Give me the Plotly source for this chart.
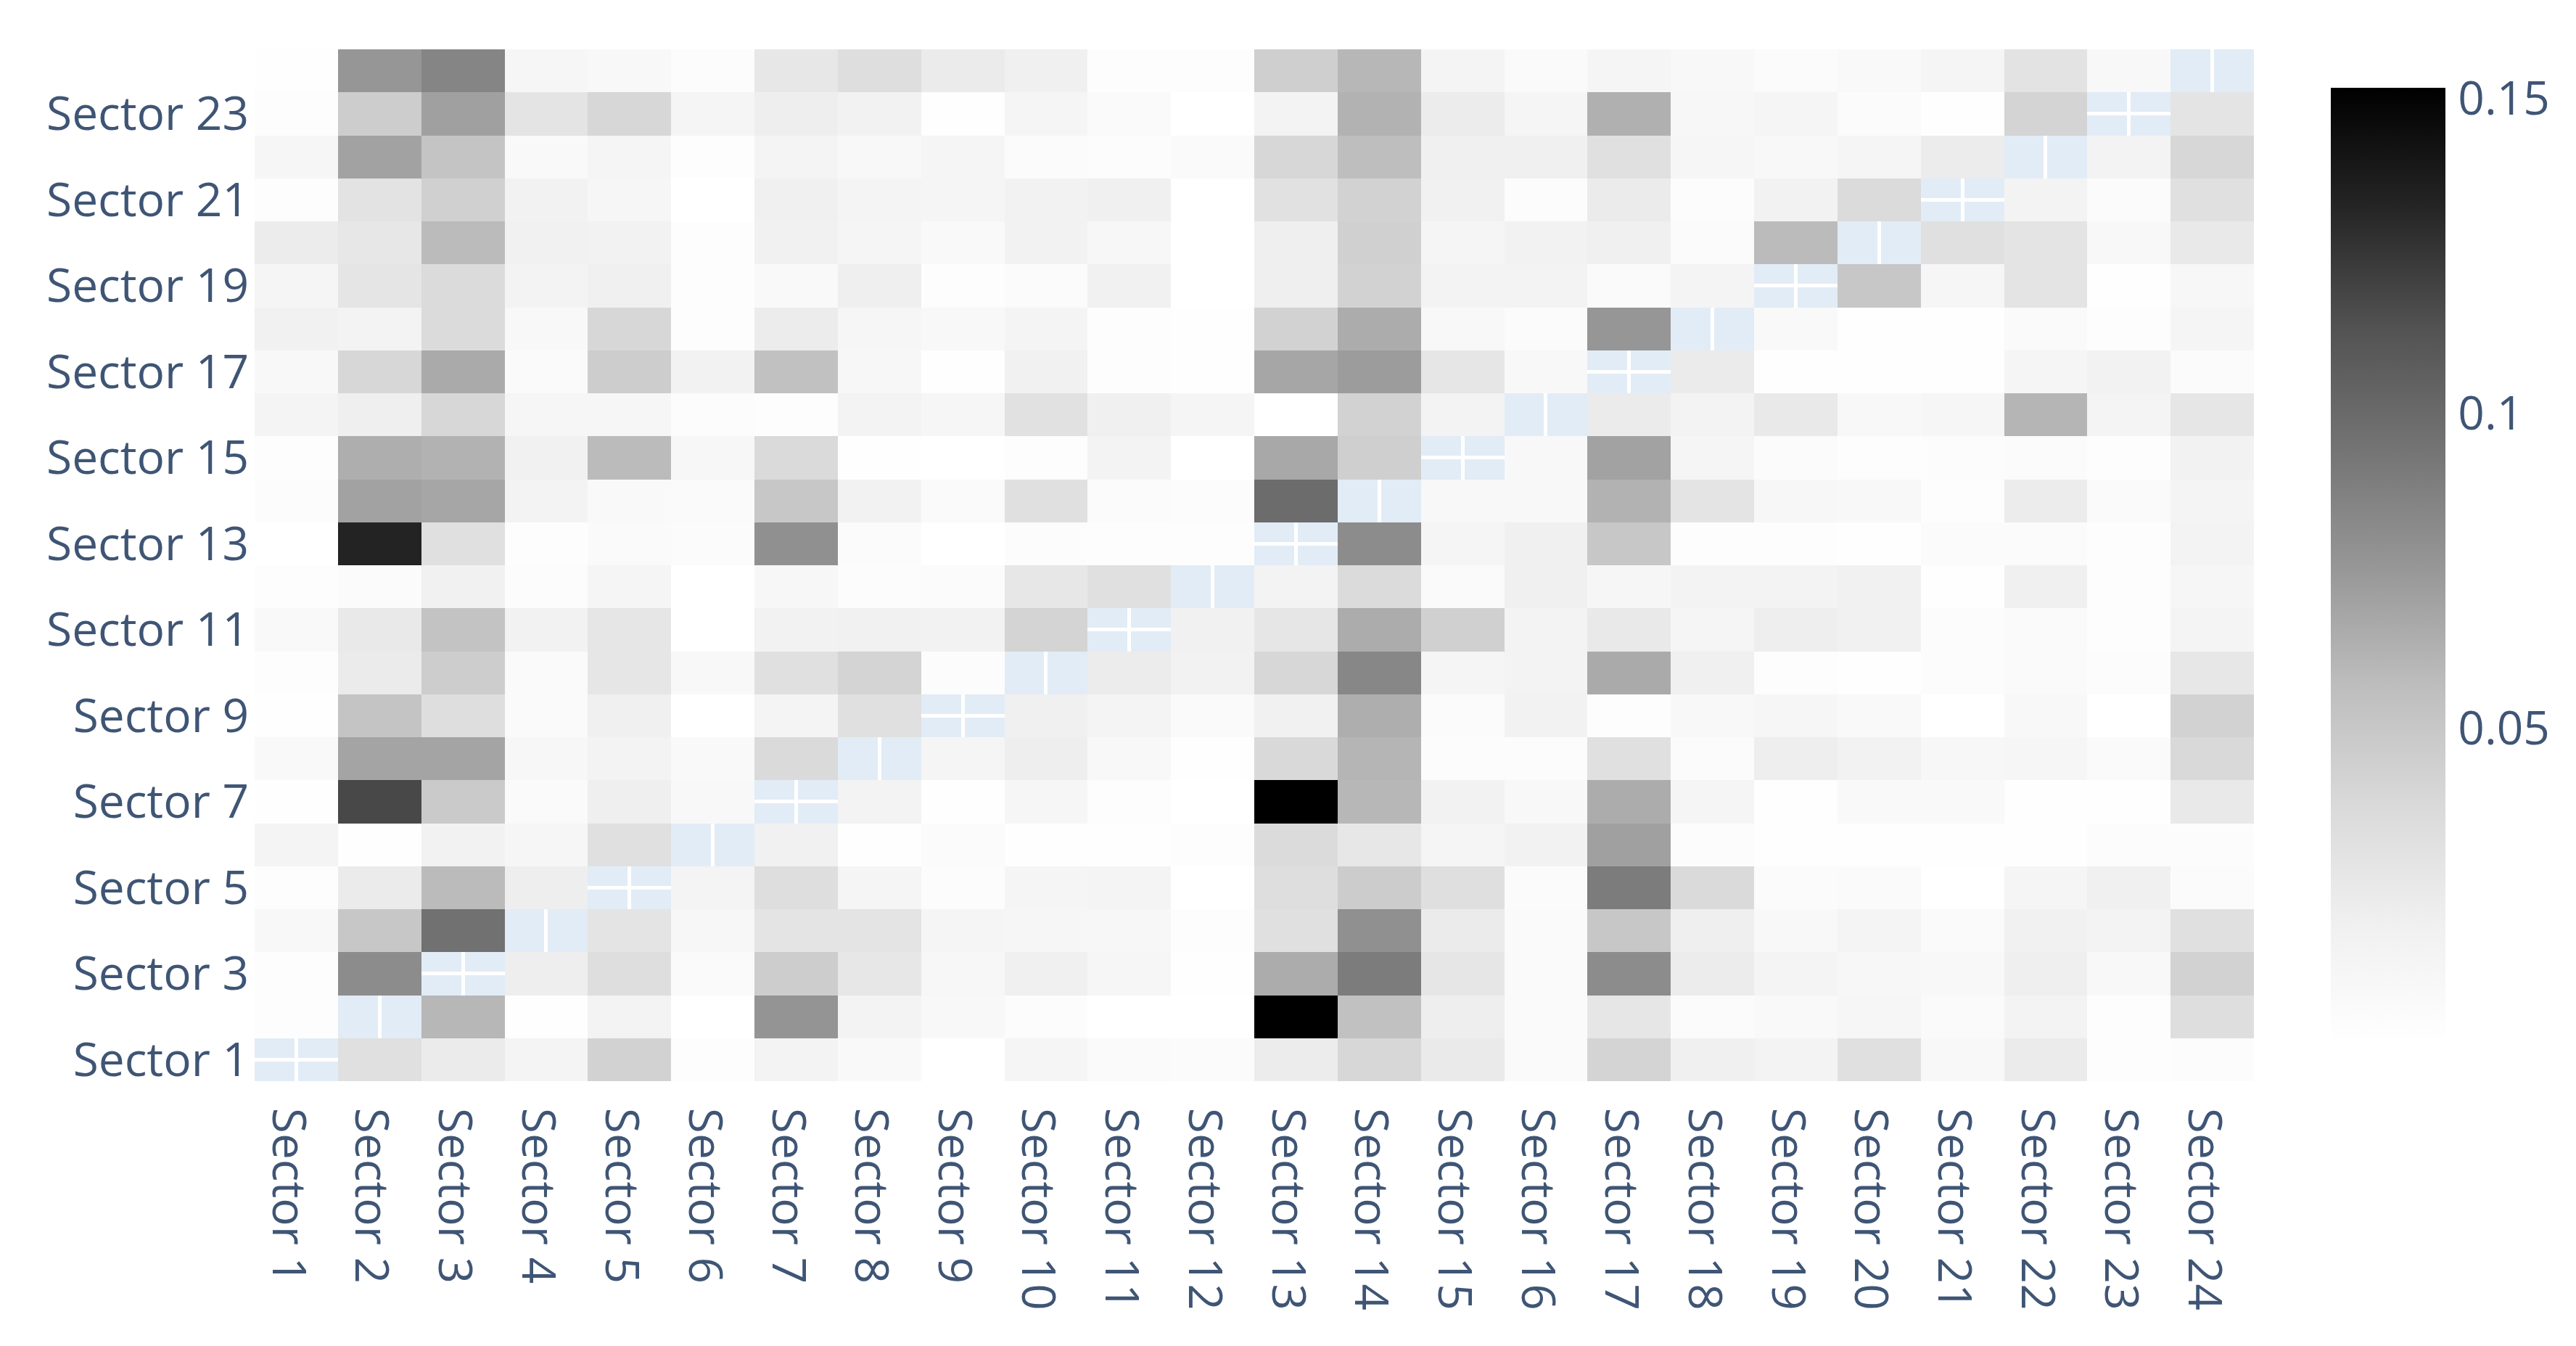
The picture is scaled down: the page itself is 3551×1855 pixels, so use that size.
import plotly.graph_objects as go

sectors = [f"Sector {i}" for i in range(1, 25)]

# In thousandths; rows Sector 1 .. Sector 24, None = empty diagonal
S01 = [None,32,23,14,43,3,15,8, 0,13,6,5,22,39,24,6, 41,19,15,32,9,23,3,4]
S02 = [3,None,60,1,15,0,77,15, 9,4,0,0,152,54,21,6, 27,5,8,11,6,15,3,34]
S03 = [3,81,None,21,34,6,46,26, 10,19,11,1,65,90,27,6, 81,22,14,10,9,20,9,43]
S04 = [9,50,96,None,29,10,29,29, 13,11,10,3,32,79,23,6, 50,20,9,14,6,18,15,32]
S05 = [3,23,58,21,None,14,34,13, 4,13,14,0,34,47,33,5, 90,37,5,6,0,13,19,5]
S06 = [14,1,16,11,32,None,18,1, 5,1,1,3,36,26,13,16, 71,4,1,1,1,1,4,4]
S07 = [1,118,48,6,20,9,None,15, 1,11,3,0,152,60,16,9, 65,13,1,8,8,1,1,25]
S08 = [8,69,69,10,15,8,37,None, 13,21,9,1,38,61,4,4, 32,5,21,16,10,11,6,38]
S09 = [1,52,34,6,19,0,14,32, None,19,14,6,18,64,5,16, 3,9,11,8,0,9,0,43]
S10 = [3,23,46,6,27,9,32,41, 4,None,22,16,39,84,13,15, 66,19,3,1,4,6,4,26]
S11 = [8,25,53,16,27,0,16,18, 16,41,None,18,27,65,44,15, 25,13,21,18,4,6,3,14]
S12 = [3,5,18,4,13,0,10,4, 5,26,32,None,15,36,6,19, 11,15,15,18,1,19,3,11]
S13 = [0,134,32,3,6,5,79,5, 0,4,3,3,None,81,13,19, 50,3,3,1,5,5,3,15]
S14 = [4,70,68,15,8,6,50,16, 6,32,5,4,99,None,9,9, 62,29,10,9,3,22,6,14]
S15 = [3,64,62,18,58,10,37,1, 0,3,15,0,67,45,None,9, 70,13,5,3,4,5,3,16]
S16 = [14,20,39,11,11,4,3,15, 11,31,19,13,0,43,15,None, 23,15,25,9,11,61,14,27]
S17 = [9,39,66,6,46,16,54,10, 1,18,3,1,68,73,27,9, None,23,1,1,1,13,16,5]
S18 = [18,15,36,9,39,3,22,11, 9,14,3,1,43,65,9,5, 76,None,8,1,1,6,3,13]
S19 = [13,28,36,15,19,3,8,20, 3,5,18,0,20,43,15,15, 6,14,None,50,11,29,1,10]
S20 = [22,26,58,18,16,3,18,13, 8,16,10,0,20,44,13,16, 19,5,58,None,32,29,9,25]
S21 = [3,30,44,16,11,0,19,14, 13,16,19,0,31,43,18,4, 23,4,16,36,None,15,5,32]
S22 = [11,70,52,8,13,3,14,9, 13,5,4,6,39,56,19,19, 32,11,9,13,22,None,15,39]
S23 = [3,46,71,29,39,13,21,16, 1,13,6,0,15,62,22,13, 63,10,13,5,1,41,None,29]
S24 = [1,76,85,11,9,4,26,34, 23,19,3,3,45,60,14,6, 13,9,5,8,13,30,9,None]

rows = [S01,S02,S03,S04,S05,S06,S07,S08,S09,S10,S11,S12,
        S13,S14,S15,S16,S17,S18,S19,S20,S21,S22,S23,S24]
z = [[None if v is None else v / 1000 for v in r] for r in rows]

colorbar_ticks = [0.05, 0.1, 0.15]
greys = ["rgb(255,255,255)", "rgb(240,240,240)", "rgb(217,217,217)", "rgb(189,189,189)",
         "rgb(150,150,150)", "rgb(115,115,115)", "rgb(82,82,82)", "rgb(37,37,37)", "rgb(0,0,0)"]
TEXT = "#3f5575"
CLEAR = "rgba(0,0,0,0)"

fig = go.Figure(go.Heatmap(
    x=sectors, y=sectors, z=z, zmin=0, zmax=0.1517,
    colorscale=[[i / 8, c] for i, c in enumerate(greys)],
    colorbar=dict(thickness=158, thicknessmode="pixels", len=1, lenmode="fraction",
                  xpad=10, ypad=53, x=1.0348, outlinewidth=0,
                  ticks="outside", ticklen=5, tickcolor=CLEAR,
                  tickvals=colorbar_ticks,
                  tickfont=dict(size=64, color=TEXT)),
))
fig.update_layout(
    width=3543, height=1847,
    margin=dict(l=343, r=444, t=60, b=365, pad=0),
    font=dict(family="Open Sans", size=64, color=TEXT),
    paper_bgcolor="white", plot_bgcolor="#E2ECF6",
    xaxis=dict(type="category", tickmode="linear", dtick=1, tickangle=90,
               gridcolor="white", gridwidth=5, showline=False,
               ticks="outside", ticklen=23, tickcolor=CLEAR, ticklabelshift=-12,
               automargin=False, tickfont=dict(size=64)),
    yaxis=dict(type="category", tickmode="linear", tick0=0, dtick=2,
               gridcolor="white", gridwidth=5, showline=False,
               ticks="", ticklabelstandoff=7,
               automargin=False, tickfont=dict(size=64)),
)
fig.write_html("out.html", config={"displayModeBar": False})
